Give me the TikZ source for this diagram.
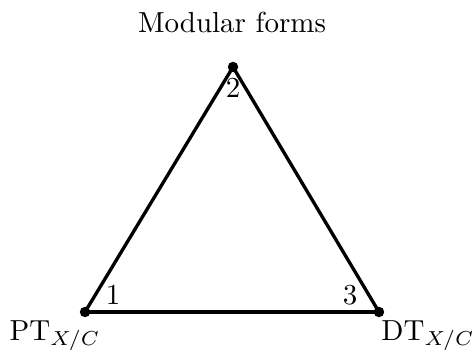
\documentclass[tikz,border=0pt]{standalone}
\usepackage{amsmath,amssymb}
\usepackage{tikz}
\usetikzlibrary{positioning,calc}

\begin{document}
\begin{tikzpicture}[
  x=0.345pt, y=-0.345pt,
  vtx/.style={circle,fill=black,inner sep=0pt,minimum size=3.6pt},
  side/.style={line width=1.15pt,line cap=round},
  corner/.style={inner sep=1pt}
]
\useasboundingbox (0,0) rectangle (475,354);

\node[vtx] (pt) at (85,312) {};
\node[vtx] (mf) at (233,67) {};
\node[vtx] (dt) at (379,312) {};

\draw[side] (pt.center)--(mf.center);
\draw[side] (mf.center)--(dt.center);
\draw[side] (dt.center)--(pt.center);

\node (mflab) at (232,22) {Modular forms};
\node (ptlab) at (55,336) {$\mathrm{PT}_{X/C}$};
\node (dtlab) at (428,336) {$\mathrm{DT}_{X/C}$};

\node[corner] (one) at (113,295) {1};
\node[corner] (two) at (233,88) {2};
\node[corner] (three) at (350,295) {3};

\end{tikzpicture}
\end{document}
